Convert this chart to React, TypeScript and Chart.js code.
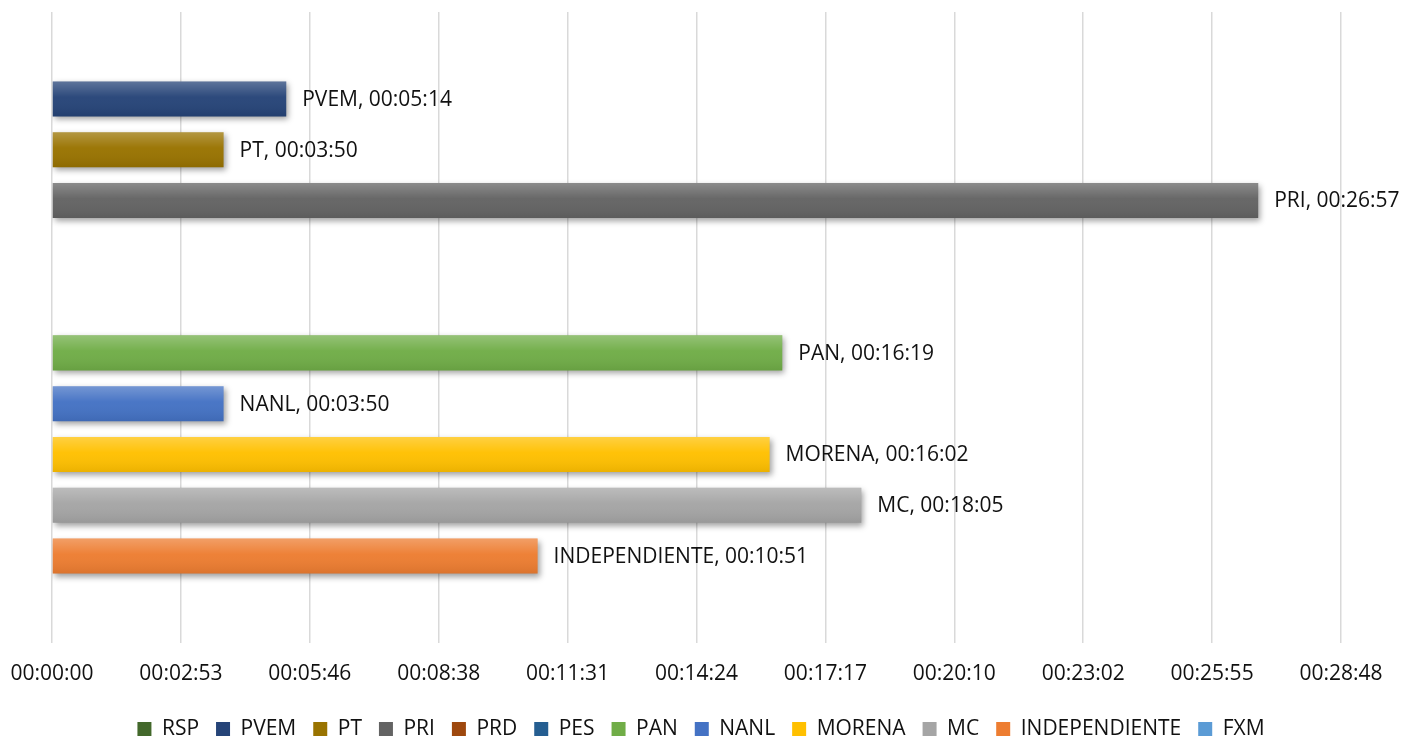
import React, { useEffect, useRef } from 'react';
import { Chart, registerables } from 'chart.js';

Chart.register(...registerables);

// ---- data ----
const SERIES = ['RSP', 'PVEM', 'PT', 'PRI', 'PRD', 'PES', 'PAN', 'NANL', 'MORENA', 'MC', 'INDEPENDIENTE', 'FXM'];
const DURATIONS: (string | null)[] = [
  null, '00:05:14', '00:03:50', '00:26:57', null, null,
  '00:16:19', '00:03:50', '00:16:02', '00:18:05', '00:10:51', null,
];
const COLORS = [
  '#43682B', '#264478', '#997300', '#636363', '#9E480E', '#255E91',
  '#70AD47', '#4472C4', '#FFC000', '#A5A5A5', '#ED7D31', '#5B9BD5',
];
const TICK_LABELS = [
  '00:00:00', '00:02:53', '00:05:46', '00:08:38', '00:11:31', '00:14:24',
  '00:17:17', '00:20:10', '00:23:02', '00:25:55', '00:28:48',
];
const TICK_STEP_SECONDS = 172.8; // 0.002 day

// ---- style ----
const FONT_FAMILY = '"Open Sans", "Noto Sans", sans-serif';
const FONT_SIZE = 21;
const TEXT_COLOR = '#111111';
const LEGEND_TEXT_Y = 729;
const LEGEND_CENTER_X = 701;

const toSeconds = (s: string | null): number | null => {
  if (s == null) return null;
  const [h, m, sec] = s.split(':').map(Number);
  return h * 3600 + m * 60 + sec;
};

const barStylePlugin = {
  id: 'barStyle',
  beforeDatasetsDraw(chart: any) {
    const ctx = chart.ctx;
    ctx.save();
    ctx.shadowColor = 'rgba(0,0,0,0.38)';
    ctx.shadowBlur = 6;
    ctx.shadowOffsetX = 2;
    ctx.shadowOffsetY = 3;
  },
  afterDatasetsDraw(chart: any) {
    const ctx = chart.ctx;
    ctx.restore();
    chart.data.datasets.forEach((ds: any, i: number) => {
      const meta = chart.getDatasetMeta(i);
      meta.data.forEach((el: any, j: number) => {
        if (ds.data[j] == null) return;
        const { x, y, base, height } = el.getProps(['x', 'y', 'base', 'height'], true);
        const top = y - height / 2;
        const g = ctx.createLinearGradient(0, top, 0, top + height);
        g.addColorStop(0, 'rgba(255,255,255,0.26)');
        g.addColorStop(0.45, 'rgba(255,255,255,0.03)');
        g.addColorStop(1, 'rgba(0,0,0,0.08)');
        ctx.save();
        ctx.fillStyle = g;
        ctx.fillRect(Math.min(base, x), top, Math.abs(x - base), height);
        ctx.restore();
      });
    });
  },
};

const valueLabelPlugin = {
  id: 'valueLabels',
  afterDatasetsDraw(chart: any) {
    const ctx = chart.ctx;
    ctx.save();
    ctx.font = `${FONT_SIZE}px ${FONT_FAMILY}`;
    ctx.fillStyle = TEXT_COLOR;
    ctx.textAlign = 'left';
    ctx.textBaseline = 'middle';
    chart.data.datasets.forEach((ds: any, i: number) => {
      const meta = chart.getDatasetMeta(i);
      meta.data.forEach((el: any, j: number) => {
        if (ds.data[j] == null) return;
        ctx.fillText(`${ds.label}, ${DURATIONS[i]}`, el.x + 16, el.y + 1);
      });
    });
    ctx.restore();
  },
};

const legendPlacePlugin = {
  id: 'legendPlace',
  afterLayout(chart: any) {
    const lg = chart.legend;
    if (!lg) return;
    const p = lg.options.labels.padding;
    const targetTop = LEGEND_TEXT_Y - p - FONT_SIZE / 2;
    const dy = targetTop - lg.top;
    lg.top += dy;
    lg.bottom += dy;
    const dx = LEGEND_CENTER_X - (lg.left + lg.right) / 2;
    lg.left += dx;
    lg.right += dx;
  },
};

export default function App() {
  const canvasRef = useRef<HTMLCanvasElement | null>(null);

  useEffect(() => {
    if (!canvasRef.current) return;
    const datasets = SERIES.map((name, i) => ({
      label: name,
      data: [toSeconds(DURATIONS[i])],
      backgroundColor: COLORS[i],
      borderWidth: 0,
      categoryPercentage: 0.966,
      barPercentage: 0.69,
    }));
    const chart = new Chart(canvasRef.current, {
      type: 'bar',
      data: { labels: [''], datasets },
      plugins: [barStylePlugin, valueLabelPlugin, legendPlacePlugin],
      options: {
        indexAxis: 'y',
        animation: false,
        responsive: true,
        maintainAspectRatio: false,
        layout: { padding: { left: 52, right: 61, top: 12, bottom: 2.3 } },
        scales: {
          x: {
            type: 'linear',
            min: 0,
            max: (TICK_LABELS.length - 1) * TICK_STEP_SECONDS,
            afterBuildTicks: (axis: any) => {
              axis.ticks = TICK_LABELS.map((_, i) => ({ value: i * TICK_STEP_SECONDS }));
            },
            border: { display: false },
            grid: {
              color: '#d9d9d9',
              lineWidth: 1.5,
              drawTicks: true,
              tickLength: 18.5,
              tickColor: 'rgba(0,0,0,0)',
            },
            ticks: {
              padding: 0,
              maxRotation: 0,
              autoSkip: false,
              color: TEXT_COLOR,
              font: { family: FONT_FAMILY, size: FONT_SIZE },
              callback: (_v: any, i: number) => TICK_LABELS[i],
            },
          },
          y: {
            type: 'category',
            display: false,
            grid: { display: false },
          },
        },
        plugins: {
          tooltip: { enabled: false },
          legend: {
            position: 'bottom',
            labels: {
              boxWidth: 14,
              boxHeight: 14,
              padding: 17,
              color: TEXT_COLOR,
              font: { family: FONT_FAMILY, size: FONT_SIZE },
            },
          },
        },
      },
    } as any);
    return () => chart.destroy();
  }, []);

  return (
    <div style={{ position: 'absolute', left: 0, top: 0, width: 1402, height: 737, background: '#fff' }}>
      <canvas ref={canvasRef} />
    </div>
  );
}
